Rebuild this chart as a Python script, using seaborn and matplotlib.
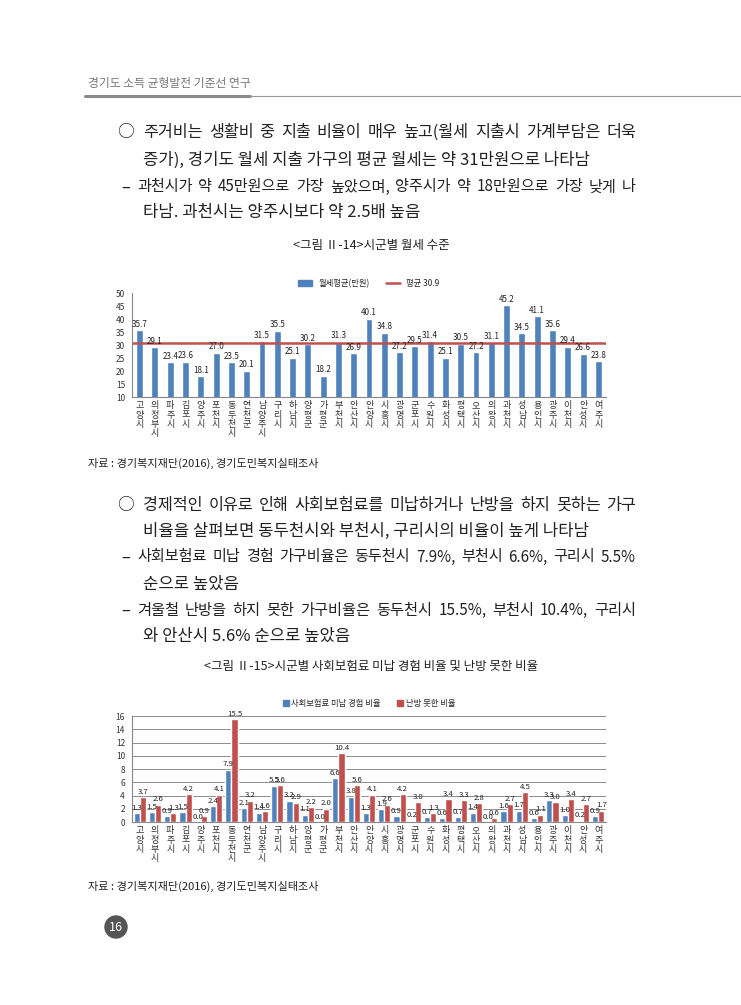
import matplotlib
matplotlib.use("Agg")
import matplotlib.pyplot as plt
from matplotlib.patches import Patch, Circle
from matplotlib.lines import Line2D
import numpy as np
import pandas as pd
import seaborn as sns

# 시군 (31개)
cities = ["고양시", "의정부시", "파주시", "김포시", "양주시", "포천시", "동두천시", "연천군",
          "남양주시", "구리시", "하남시", "양평군", "가평군", "부천시", "안산시", "안양시",
          "시흥시", "광명시", "군포시", "수원시", "화성시", "평택시", "오산시", "의왕시",
          "과천시", "성남시", "용인시", "광주시", "이천시", "안성시", "여주시"]

# 그림 II-14 월세평균(만원)
rent = [35.7, 29.1, 23.4, 23.6, 18.1, 27.0, 23.5, 20.1, 31.5, 35.5, 25.1, 30.2, 18.2, 31.3,
        26.9, 40.1, 34.8, 27.2, 29.5, 31.4, 25.1, 30.5, 27.2, 31.1, 45.2, 34.5, 41.1, 35.6,
        29.4, 26.6, 23.8]
rent_avg = 30.9

# 그림 II-15
insurance = [1.3, 1.5, 0.9, 1.5, 0.0, 2.4, 7.9, 2.1, 1.4, 5.5, 3.2, 1.1, 0.0, 6.6, 3.8, 1.3,
             1.9, 0.9, 0.2, 0.7, 0.6, 0.7, 1.4, 0.0, 1.6, 1.7, 0.6, 3.3, 1.0, 0.2, 0.9]
heating = [3.7, 2.6, 1.3, 4.2, 0.9, 4.1, 15.5, 3.2, 1.6, 5.6, 2.9, 2.2, 2.0, 10.4, 5.6, 4.1,
           2.6, 4.2, 3.0, 1.3, 3.4, 3.3, 2.8, 0.6, 2.7, 4.5, 1.1, 3.0, 3.4, 2.7, 1.7]
series_names = ["사회보험료 미납 경험 비율", "난방 못한 비율"]

BLUE = "#4F81BD"
RED = "#C0504D"
TXT = "#222222"
BODY = 12.0

sns.set_style("white")
plt.rcParams["font.family"] = ["Noto Sans CJK KR", "DejaVu Sans"]

W, H = 741, 1005
fig = plt.figure(figsize=(W / 100, H / 100), dpi=100)


def px_axes(x0, y0, x1, y1):
    return fig.add_axes([x0 / W, 1 - y1 / H, (x1 - x0) / W, (y1 - y0) / H])


def put(x, y, s, size=BODY, color=TXT, ha="left"):
    return fig.text(x / W, 1 - y / H, s, fontsize=size, color=color, ha=ha, va="center")


def justify(x0, x1, y, s, size=BODY, min_gap=5.5):
    # 양쪽 정렬: 단어 사이 간격을 늘려서 x0~x1 을 채움 (너무 좁으면 글자 축소)
    words = s.split(" ")
    r = fig.canvas.get_renderer()
    arts = [put(x0, y, w, size) for w in words]
    while True:
        widths = [a.get_window_extent(r).width for a in arts]
        gap = (x1 - x0 - sum(widths)) / (len(words) - 1)
        if gap >= min_gap or size < 9:
            break
        size -= 0.1
        for a in arts:
            a.set_fontsize(size)
    x = x0
    for a, w in zip(arts, widths):
        a.set_x(x / W)
        x += w + gap


def style_cat_axis(ax, n):
    ax.set_xticks(range(n))
    ax.set_xticklabels(["\n".join(c) for c in cities], fontsize=6.5, linespacing=1.05,
                       color="#333")
    ax.set_xticks(np.arange(-0.5, n, 1.0), minor=True)
    ax.tick_params(axis="x", which="major", length=0, pad=3)
    ax.tick_params(axis="x", which="minor", length=3, color="#888", width=0.6)
    ax.tick_params(axis="y", labelsize=6, length=3, color="#888", width=0.6, pad=2,
                   labelcolor="#333")
    ax.set_xlim(-0.5, n - 0.5)
    ax.set_xlabel("")
    ax.set_ylabel("")
    sns.despine(ax=ax)
    for sp in ("left", "bottom"):
        ax.spines[sp].set_color("#888")
        ax.spines[sp].set_linewidth(0.8)


# ---- 머리글 ----
put(88, 83, "경기도 소득 균형발전 기준선 연구", size=8.5, color="#777")
fig.add_artist(Line2D([85 / W, 250 / W], [1 - 96 / H, 1 - 96 / H], color="#8a8a8a", lw=2.2))
fig.add_artist(Line2D([250 / W, 1.0], [1 - 96.5 / H, 1 - 96.5 / H], color="#999", lw=0.8))

# ---- 본문 1 ----
put(117, 132, "○")
justify(143, 636, 132, "주거비는 생활비 중 지출 비율이 매우 높고(월세 지출시 가계부담은 더욱")
put(143, 160, "증가), 경기도 월세 지출 가구의 평균 월세는 약 31만원으로 나타남")
put(121, 187, "–")
justify(137, 636, 187, "과천시가 약 45만원으로 가장 높았으며, 양주시가 약 18만원으로 가장 낮게 나")
put(143, 213, "타남. 과천시는 양주시보다 약 2.5배 높음")
put(371, 246, "<그림 Ⅱ-14>시군별 월세 수준", size=9, ha="center")

# ---- 그림 II-14 ----
ax1 = px_axes(132, 293, 606, 397)
sns.barplot(x=cities, y=rent, color=BLUE, width=0.45, ax=ax1, saturation=1)
ax1.axhline(rent_avg, color=RED, lw=1.8)
ax1.bar_label(ax1.containers[0], fmt="%.1f", fontsize=5.8, padding=1, color="#222")
ax1.set_ylim(10, 50)
ax1.set_yticks(range(10, 51, 5))
style_cat_axis(ax1, len(cities))
ax1.legend(handles=[Patch(color=BLUE, label="월세평균(만원)"),
                    Line2D([], [], color=RED, lw=1.8, label="평균 %.1f" % rent_avg)],
           loc="lower center", bbox_to_anchor=(0.5, 1.0), ncol=2, frameon=False,
           fontsize=6, handlelength=1.6, handleheight=0.7, columnspacing=2.0,
           borderaxespad=0.2)

put(88, 463, "자료 : 경기복지재단(2016), 경기도민복지실태조사", size=8)

# ---- 본문 2 ----
put(117, 505, "○")
justify(143, 636, 505, "경제적인 이유로 인해 사회보험료를 미납하거나 난방을 하지 못하는 가구")
put(143, 531, "비율을 살펴보면 동두천시와 부천시, 구리시의 비율이 높게 나타남")
put(121, 557, "–")
justify(137, 636, 557, "사회보험료 미납 경험 가구비율은 동두천시 7.9%, 부천시 6.6%, 구리시 5.5%")
put(143, 584, "순으로 높았음")
put(121, 610, "–")
justify(137, 636, 610, "겨울철 난방을 하지 못한 가구비율은 동두천시 15.5%, 부천시 10.4%, 구리시")
put(143, 636, "와 안산시 5.6% 순으로 높았음")
put(371, 666, "<그림 Ⅱ-15>시군별 사회보험료 미납 경험 비율 및 난방 못한 비율", size=9, ha="center")

# ---- 그림 II-15 ----
df2 = pd.DataFrame({
    "city": cities * 2,
    "value": insurance + heating,
    "series": [series_names[0]] * len(cities) + [series_names[1]] * len(cities),
})
ax2 = px_axes(132, 716, 606, 822)
ax2.yaxis.grid(True, color="#8c8c8c", lw=0.7)
ax2.set_axisbelow(True)
sns.barplot(data=df2, x="city", y="value", hue="series", order=cities,
            hue_order=series_names, palette=[BLUE, RED], width=0.8, ax=ax2,
            saturation=1, legend=False)
for cont in ax2.containers:
    ax2.bar_label(cont, fmt="%.1f", fontsize=5.6, padding=1, color="#222")
ax2.set_ylim(0, 16)
ax2.set_yticks(range(0, 17, 2))
style_cat_axis(ax2, len(cities))
ax2.legend(handles=[Patch(color=BLUE, label=series_names[0]),
                    Patch(color=RED, label=series_names[1])],
           loc="lower center", bbox_to_anchor=(0.5, 1.0), ncol=2, frameon=False,
           fontsize=6, handlelength=0.7, handleheight=0.7, handletextpad=0.3,
           columnspacing=2.0, borderaxespad=0.6)

put(88, 886, "자료 : 경기복지재단(2016), 경기도민복지실태조사", size=8)

# ---- 쪽 번호 ----
fig.add_artist(Circle((1.16, (H - 927) / 100), 0.11, transform=fig.dpi_scale_trans,
                      color="#555555"))
put(116, 927, "16", size=9, color="white", ha="center")

fig.savefig("out.png", dpi=100)
